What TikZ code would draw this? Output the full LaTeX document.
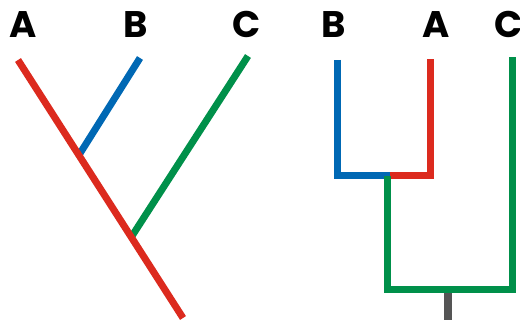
\documentclass[tikz,border=0pt]{standalone}
\usepackage{fontspec}
\setmainfont{Poppins}[BoldFont={* Bold}]
\definecolor{cred}{HTML}{DC2A1E}
\definecolor{cblue}{HTML}{0068B4}
\definecolor{cgreen}{HTML}{00904A}
\definecolor{cgray}{HTML}{555555}
\begin{document}
\begin{tikzpicture}[x=1pt,y=-1pt,
  branch/.style={line width=7pt,line cap=butt,line join=miter},
  lab/.style={font=\fontsize{37}{37}\selectfont\bfseries,anchor=base,inner sep=0pt}]
\useasboundingbox (0,0) rectangle (520,320);
% left tree
\coordinate (la) at (18,60);
\coordinate (lroot) at (183,318);
\coordinate (lb) at (140,58);
\coordinate (lbj) at (79,155);
\coordinate (lc) at (248,56);
\coordinate (lcj) at (132,236);
\draw[branch,cblue] (lbj) -- (lb);
\draw[branch,cgreen] (lcj) -- (lc);
\draw[branch,cred] (la) -- (lroot);
\node[lab] (tA) at (23,38) {A};
\node[lab] (tB) at (136,38) {B};
\node[lab] (tC) at (247,38) {C};
% right tree
\coordinate (rb) at (337,60);
\coordinate (rbc) at (337,176);
\coordinate (rj) at (390,176);
\coordinate (rac) at (430,176);
\coordinate (ra) at (430,59);
\coordinate (rgj) at (387,176);
\coordinate (rgc) at (387,290);
\coordinate (rcc) at (512,290);
\coordinate (rc) at (512,57);
\coordinate (rroot) at (448,293.5);
\coordinate (rbase) at (448,320);
\draw[branch,cblue] (rb) -- (rbc) -- (rj);
\draw[branch,cred] (rj) -- (rac) -- (ra);
\draw[branch,cgreen] (rgj) -- (rgc) -- (rcc) -- (rc);
\draw[line width=8pt,cgray] (rroot) -- (rbase);
\node[lab] (uB) at (334,38) {B};
\node[lab] (uA) at (436,38) {A};
\node[lab] (uC) at (509,38) {C};
\end{tikzpicture}
\end{document}
